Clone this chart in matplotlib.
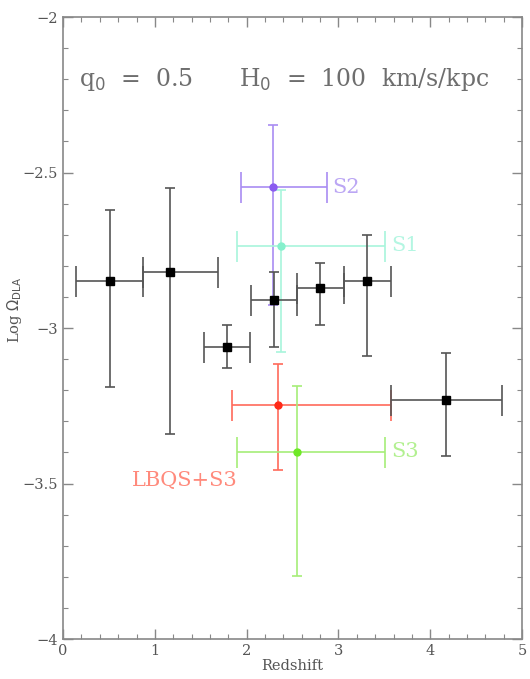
import numpy as np
import matplotlib
matplotlib.use("Agg")
import matplotlib.pyplot as plt
from matplotlib.ticker import MultipleLocator, FuncFormatter

# black bins
z_bin = [0.51, 1.17, 1.79, 2.30, 2.80, 3.31, 4.17]
z_lo = [0.14, 0.875, 1.54, 2.05, 2.55, 3.06, 3.57]
z_hi = [0.87, 1.69, 2.04, 2.55, 3.06, 3.57, 4.78]
om_bin = [-2.85, -2.82, -3.06, -2.91, -2.87, -2.85, -3.23]
om_lo = [-3.19, -3.34, -3.13, -3.06, -2.99, -3.09, -3.41]
om_hi = [-2.62, -2.55, -2.99, -2.82, -2.79, -2.70, -3.08]

# coloured samples
samples = ["S2", "S1", "LBQS+S3", "S3"]
s_z = [2.29, 2.37, 2.34, 2.55]
s_zlo = [1.94, 1.90, 1.84, 1.90]
s_zhi = [2.87, 3.51, 3.57, 3.51]
s_om = [-2.547, -2.736, -3.248, -3.398]
s_omlo = [-2.926, -3.076, -3.458, -3.798]
s_omhi = [-2.346, -2.557, -3.117, -3.187]

bar_col = ["#a98cf2", "#a8f5dc", "#ff6a5a", "#a6ee78"]
pt_col = ["#8a5cf0", "#86f0cc", "#ff2a18", "#6ee826"]
lab_col = ["#bba6f4", "#b4f6e2", "#ff8a7c", "#b2f090"]

plt.rcParams["font.family"] = ["DejaVu Serif"]

dpi = 100
fig = plt.figure(figsize=(5.30, 6.79), dpi=dpi)
ax = fig.add_axes([0.119, 0.0589, 0.866, 0.916])

px = 72.0 / dpi  # points per pixel
gray = "#555555"


def draw(x, xl, xh, y, yl, yh, bc, pc, marker, ms, z):
    x = np.atleast_1d(x); y = np.atleast_1d(y)
    xerr = [x - np.atleast_1d(xl), np.atleast_1d(xh) - x]
    yerr = [y - np.atleast_1d(yl), np.atleast_1d(yh) - y]
    ax.errorbar(x, y, xerr=xerr, fmt="none", ecolor=bc, elinewidth=1.2,
                capsize=15.5 * px, capthick=1.2, zorder=z)
    ax.errorbar(x, y, yerr=yerr, fmt="none", ecolor=bc, elinewidth=1.2,
                capsize=5 * px, capthick=1.2, zorder=z)
    ax.plot(x, y, linestyle="none", marker=marker, color=pc, ms=ms, zorder=z + 0.5)


for i in range(len(samples)):
    draw(s_z[i], s_zlo[i], s_zhi[i], s_om[i], s_omlo[i], s_omhi[i],
         bar_col[i], pt_col[i], "o", 5, 2)

draw(np.array(z_bin), z_lo, z_hi, np.array(om_bin), om_lo, om_hi,
     gray, "black", "s", 5.5, 3)

# sample labels
ax.text(s_zhi[0] + 0.06, s_om[0], "S2", color=lab_col[0], fontsize=15,
        va="center", ha="left")
ax.text(s_zhi[1] + 0.06, s_om[1], "S1", color=lab_col[1], fontsize=15,
        va="center", ha="left")
ax.text(s_zhi[3] + 0.06, s_om[3], "S3", color=lab_col[3], fontsize=15,
        va="center", ha="left")
ax.text(1.33, -3.49, "LBQS+S3", color=lab_col[2], fontsize=15,
        va="center", ha="center")

ax.text(0.17, -2.222, r"q$_0$  =  0.5", color="#6e6e6e", fontsize=17,
        va="baseline", ha="left")
ax.text(1.92, -2.222, r"H$_0$  =  100  km/s/kpc", color="#6e6e6e", fontsize=17,
        va="baseline", ha="left")

ax.set_xlim(0, 5)
ax.set_ylim(-4, -2)
ax.xaxis.set_major_locator(MultipleLocator(1))
ax.xaxis.set_minor_locator(MultipleLocator(0.2))
ax.yaxis.set_major_locator(MultipleLocator(0.5))
ax.yaxis.set_minor_locator(MultipleLocator(0.1))
ax.yaxis.set_major_formatter(FuncFormatter(lambda v, p: f"{v:g}".replace("-", "\u2212")))

ax.tick_params(which="both", direction="in", top=True, right=True,
               color="#888888", labelcolor="#555555", labelsize=10.5)
ax.tick_params(which="major", length=7, width=1)
ax.tick_params(which="minor", length=3.5, width=0.8)
for s in ax.spines.values():
    s.set_color("#888888")
    s.set_linewidth(1.2)

ax.set_xlabel("Redshift", color="#555555", fontsize=10.5, labelpad=1)
ax.set_ylabel(r"Log $\Omega_{\rm DLA}$", color="#555555", fontsize=10.5)
ax.yaxis.set_label_coords(-0.085, 0.53)

fig.savefig("out.png", dpi=dpi)
